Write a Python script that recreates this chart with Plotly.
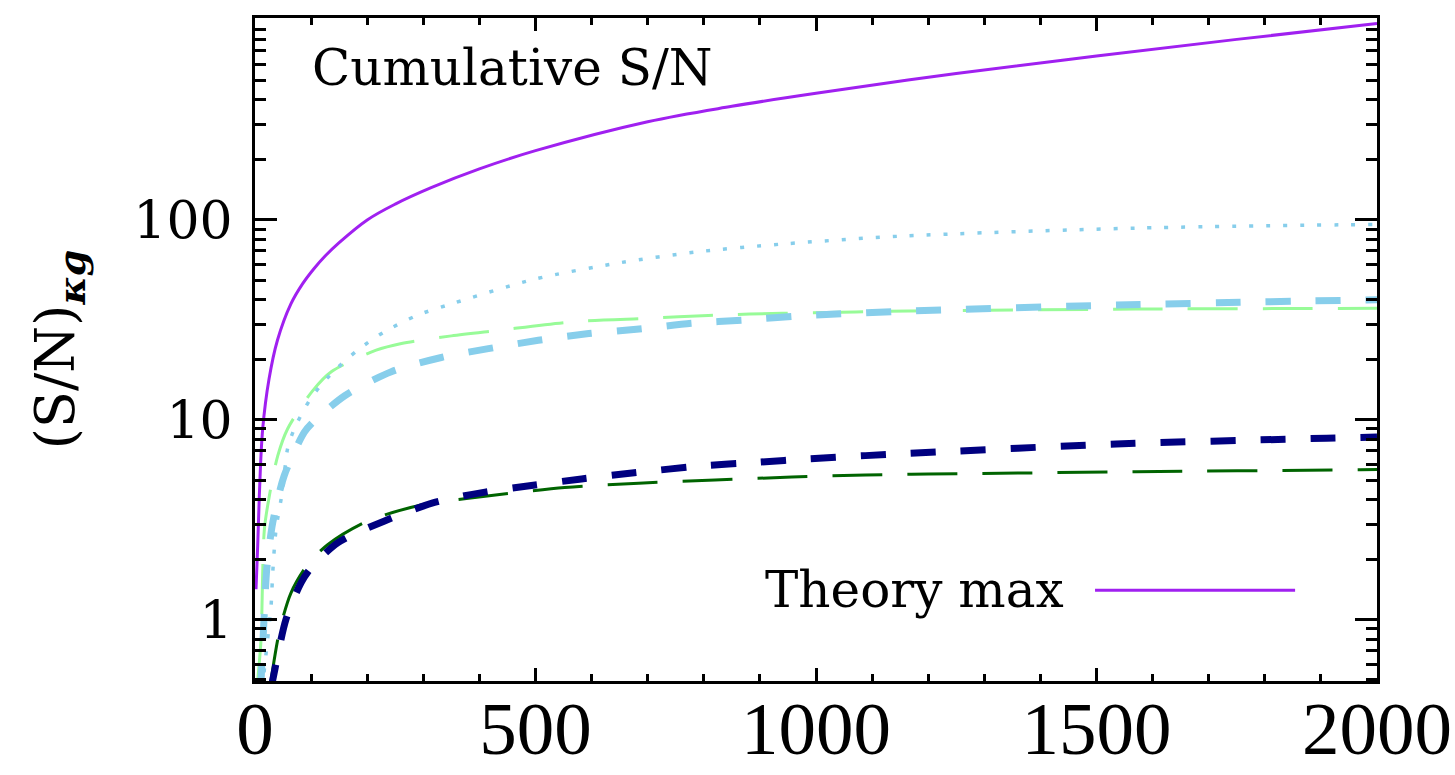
import plotly.graph_objects as go

# ---- data ----
theory_t = [1.8, 4.8, 7.7, 13.7, 25, 40, 64, 85, 105, 125, 150, 200, 250, 314, 400, 500, 700, 850, 1000, 1250, 1500, 1750, 2000]
theory_v = [1.42, 2.34, 4.17, 9.0, 16, 25, 38, 48, 57, 66, 77, 100, 120, 145, 180, 222, 310, 370, 430, 540, 660, 800, 960]

dotted_t = [14, 16, 28.6, 31.6, 37.5, 49.5, 58, 70, 97, 115, 136, 183, 231, 290, 350, 498, 654, 784, 939, 1154, 1570, 2000]
dotted_v = [0.45, 0.54, 1.17, 1.72, 2.83, 4.5, 7.15, 9.0, 12.5, 14.6, 17.0, 22.3, 27.6, 33.4, 38.0, 50.5, 61.3, 69.0, 75.7, 83.0, 91.0, 95.0]

lgreen_t = [4, 5, 10.7, 16.7, 25.6, 40.5, 58, 103, 136, 216, 261, 350, 433, 570, 702, 808, 939, 1166, 1570, 2000]
lgreen_v = [0.45, 0.5, 0.79, 2.83, 4.17, 6.6, 9.0, 14.0, 17.4, 22.3, 24.1, 26.3, 28.0, 31.0, 32.2, 33.3, 34.1, 35.0, 35.8, 36.1]

lblue_t = [10, 12, 16.6, 21, 31.6, 52, 88, 103, 160, 243, 332, 416, 505, 595, 680, 779, 874, 963, 1140, 1535, 2000]
lblue_v = [0.45, 0.58, 1.08, 1.8, 3.06, 5.25, 8.67, 9.7, 13.2, 17.4, 20.5, 22.7, 25.0, 27.0, 28.4, 30.4, 31.6, 33.0, 34.8, 37.5, 39.9]

navy_t = [28, 31.6, 55, 82, 100, 148, 231, 320, 410, 496, 582, 672, 802, 892, 981, 1160, 1535, 1910, 2000]
navy_v = [0.45, 0.5, 1.0, 1.53, 1.82, 2.43, 3.12, 3.86, 4.35, 4.71, 5.06, 5.42, 5.9, 6.12, 6.37, 6.78, 7.57, 8.09, 8.2]

dgreen_t = [26, 28.6, 43, 64, 94, 130, 201, 302, 377, 552, 684, 820, 957, 1088, 1200, 1570, 1970, 2000]
dgreen_v = [0.45, 0.5, 0.86, 1.36, 1.89, 2.38, 3.12, 3.78, 4.04, 4.59, 4.82, 5.0, 5.17, 5.30, 5.35, 5.5, 5.63, 5.65]

x_ticks = [0, 500, 1000, 1500, 2000]
y_ticks = [1, 10, 100]
y_minor = [0.5, 0.6, 0.7, 0.8, 0.9, 2, 3, 4, 5, 6, 7, 8, 9,
           20, 30, 40, 50, 60, 70, 80, 90, 200, 300, 400, 500, 600, 700, 800, 900]
x_minor = [v for v in range(100, 2000, 100) if v % 500 != 0]

PURPLE = "#A020F0"
SKY = "#87CEEB"
PALEGREEN = "#98FB98"
NAVY = "#000080"
DGREEN = "#006400"

fig = go.Figure()
def add(t, v, color, width, dash, smoothing=0.8):
    fig.add_trace(go.Scatter(x=t, y=v, mode="lines",
                             line=dict(color=color, width=width, dash=dash,
                                       shape="spline", smoothing=smoothing)))

add(lgreen_t, lgreen_v, PALEGREEN, 3, "50px,25px")
add(dotted_t, dotted_v, SKY, 3.5, "4px,13px")
add(lblue_t, lblue_v, SKY, 7, "25px,25px")
add(dgreen_t, dgreen_v, DGREEN, 3, "50px,25px")
add(navy_t, navy_v, NAVY, 7, "25px,25px")
add(theory_t, theory_v, PURPLE, 3, "solid", 1.0)

fig.update_layout(
    width=1455, height=775,
    margin=dict(l=255, r=78, t=18, b=94),
    paper_bgcolor="white", plot_bgcolor="white",
    showlegend=False,
    xaxis=dict(
        range=[0, 2000], tickmode="array", tickvals=x_ticks,
        ticktext=[str(v) for v in x_ticks], automargin=False,
        ticks="inside", ticklen=13, tickwidth=3, tickcolor="black",
        showline=True, linewidth=3, linecolor="black", mirror="allticks",
        showgrid=False, zeroline=False,
        tickfont=dict(family="Liberation Serif", size=75, color="black"),
        ticklabelstandoff=-20,
        minor=dict(tickmode="array", tickvals=x_minor, ticks="inside",
                   ticklen=7, tickwidth=3, tickcolor="black", showgrid=False),
    ),
    yaxis=dict(
        type="log", range=[-0.3065, 3.01], tickmode="array", tickvals=y_ticks,
        ticktext=["1", "10", "100"], automargin=False,
        ticks="inside", ticklen=22, tickwidth=3, tickcolor="black",
        showline=True, linewidth=3, linecolor="black", mirror="allticks",
        showgrid=False, zeroline=False,
        tickfont=dict(family="DejaVu Serif", size=52, color="black"),
        ticklabelstandoff=9,
        minor=dict(tickmode="array", tickvals=y_minor, ticks="inside",
                   ticklen=11, tickwidth=3, tickcolor="black", showgrid=False),
    ),
)

fig.add_annotation(xref="paper", yref="paper", x=-0.175, y=0.50,
                   text="(S/N)<sub><b><i>κg</i></b></sub>", textangle=-90,
                   showarrow=False, xanchor="center", yanchor="middle",
                   font=dict(family="DejaVu Serif", size=54, color="black"))
fig.add_annotation(xref="paper", yref="paper", x=0.049, y=0.925,
                   text="Cumulative S/N", showarrow=False,
                   xanchor="left", yanchor="middle",
                   font=dict(family="DejaVu Serif", size=50, color="black"))
fig.add_annotation(xref="paper", yref="paper", x=0.4528, y=0.137,
                   text="Theory max", showarrow=False,
                   xanchor="left", yanchor="middle",
                   font=dict(family="DejaVu Serif", size=50, color="black"))
fig.add_shape(type="line", xref="paper", yref="paper",
              x0=0.7487, x1=0.927, y0=0.137, y1=0.137,
              line=dict(color=PURPLE, width=3))

fig.write_html("out.html")
